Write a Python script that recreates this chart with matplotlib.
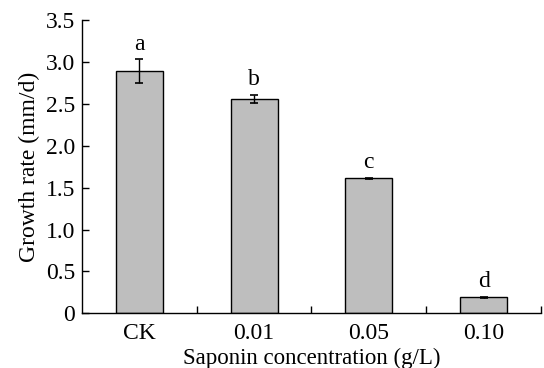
import matplotlib
matplotlib.use("Agg")
import matplotlib.pyplot as plt
import numpy as np
from matplotlib.ticker import FixedLocator, FuncFormatter

categories = ["CK", "0.01", "0.05", "0.10"]
growth = [2.89, 2.56, 1.61, 0.19]
errors = [0.14, 0.05, 0.01, 0.01]
letters = ["a", "b", "c", "d"]
yticks = [0, 0.5, 1.0, 1.5, 2.0, 2.5, 3.0, 3.5]

plt.rcParams['font.family'] = ['Liberation Serif', 'DejaVu Serif']
plt.rcParams['mathtext.fontset'] = 'stix'

fig = plt.figure(figsize=(5.44, 3.68), dpi=100)
ax = fig.add_axes([0.1507, 0.1486, 0.9945 - 0.1507, 0.9457 - 0.1486])

x = np.arange(len(categories))
ax.bar(x, growth, width=0.41, color="#bebebe", edgecolor="black", linewidth=1.0, zorder=2)
ax.errorbar(x, growth, yerr=errors, fmt="none", ecolor="black", elinewidth=1.0,
            capsize=3, capthick=1.2, zorder=3)
for xi, g, e, l in zip(x, growth, errors, letters):
    ax.text(xi, g + e + 0.05, l, ha="center", va="bottom", fontsize=17)

ax.set_xlim(-0.5, len(categories) - 0.5)
ax.set_ylim(0, 3.5)
ax.set_xticks(x)
ax.set_xticklabels(categories, fontsize=17)
ax.xaxis.set_minor_locator(FixedLocator(np.arange(0.5, len(categories) - 0.5 + 0.01, 1.0)))
ax.tick_params(axis="x", which="major", length=0, pad=7)
ax.tick_params(axis="x", which="minor", direction="in", length=5, width=1)
ax.set_yticks(yticks)
ax.yaxis.set_major_formatter(FuncFormatter(lambda v, p: "0" if v == 0 else f"{v:.1f}"))
ax.tick_params(axis="y", direction="in", length=5, width=1, labelsize=17, pad=5)

ax.spines["top"].set_visible(False)
ax.spines["right"].set_visible(False)
for s in ("left", "bottom"):
    ax.spines[s].set_linewidth(1.0)

ax.set_xlabel("Saponin concentration (g/L)", fontsize=16.5, labelpad=3)
ax.set_ylabel("Growth rate (mm/d)", fontsize=17, labelpad=4)

fig.savefig("out.png", dpi=100)
